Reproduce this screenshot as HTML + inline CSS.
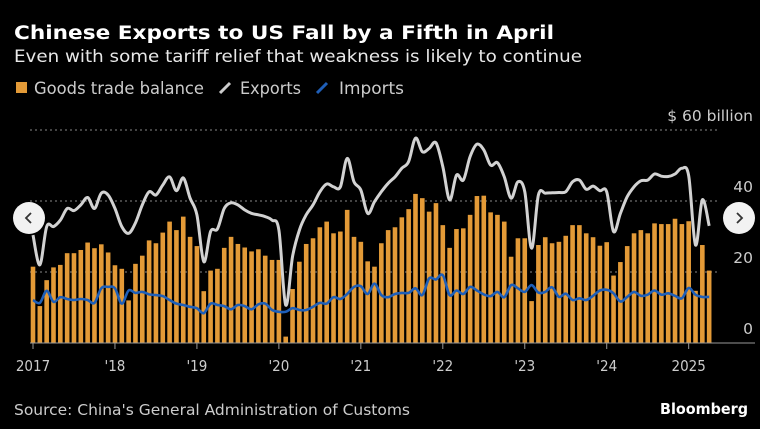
<!DOCTYPE html>
<html><head><meta charset="utf-8"><style>
html,body{margin:0;padding:0;background:#000;}
svg{display:block;}
text{font-family:"DejaVu Sans","Liberation Sans",sans-serif;fill:#e8e8e8;}
.cond{font-family:"DejaVu Sans Condensed","DejaVu Sans","Liberation Sans",sans-serif;}
</style></head><body>
<svg id="chart" width="760" height="429" viewBox="0 0 760 429" xmlns="http://www.w3.org/2000/svg">
<rect width="760" height="429" fill="#000"/>
<text x="14" y="39" font-size="18.5" font-weight="bold" fill="#fff" textLength="540" lengthAdjust="spacingAndGlyphs" style="fill:#fff">Chinese Exports to US Fall by a Fifth in April</text>
<text x="14" y="62" font-size="16.5" textLength="568" lengthAdjust="spacingAndGlyphs">Even with some tariff relief that weakness is likely to continue</text>
<g>
<rect x="16" y="82" width="11" height="11" fill="#e39a37"/>
<text x="34" y="94" font-size="16.5" fill="#ccc" textLength="170" lengthAdjust="spacingAndGlyphs" style="fill:#ccc">Goods trade balance</text>
<line x1="220" y1="93" x2="230" y2="83" stroke="#ccc" stroke-width="3"/>
<text x="240" y="94" font-size="16.5" textLength="61" lengthAdjust="spacingAndGlyphs" style="fill:#ccc">Exports</text>
<line x1="317" y1="93" x2="327" y2="83" stroke="#1f5fb8" stroke-width="3"/>
<text x="339" y="94" font-size="16.5" textLength="65" lengthAdjust="spacingAndGlyphs" style="fill:#ccc">Imports</text>
</g>
<g id="grid"></g>
<g id="bars"></g>
<g id="lines"></g>
<g id="axis"></g>
<text class="cond" x="14" y="415" font-size="15" textLength="396" lengthAdjust="spacingAndGlyphs" style="fill:#ccc">Source: China's General Administration of Customs</text>
<text x="748" y="414" font-size="15" font-weight="bold" text-anchor="end" textLength="88" lengthAdjust="spacingAndGlyphs" style="fill:#fff">Bloomberg</text>
<g><circle cx="29" cy="218" r="16" fill="#f2f2f2"/><path d="M31 213 L26 218 L31 223" stroke="#333" stroke-width="1.8" fill="none"/></g>
<g><circle cx="739" cy="218" r="16" fill="#f2f2f2"/><path d="M737 213 L742 218 L737 223" stroke="#333" stroke-width="1.8" fill="none"/></g>
</svg>
<script>
const balance=[21.5,10.4,17.7,21.3,22,25.3,25.3,26.2,28.3,26.7,27.8,25.5,
21.9,20.9,12,22.3,24.6,28.9,28.1,31.1,34.2,31.8,35.6,29.9,
27.3,14.6,20.4,20.9,26.8,29.9,27.9,26.9,25.8,26.4,24.6,23.4,
23.4,1.8,15.2,22.9,27.9,29.5,32.6,34.2,30.9,31.4,37.5,29.9,
28.5,23,21.5,28.1,31.8,32.6,35.4,37.7,42,40.8,37,39.4,
33.2,26.8,32.1,32.3,36.1,41.4,41.5,36.8,36.1,34.2,24.3,29.5,
29.5,11.8,27.6,29.8,28.1,28.5,30.2,33.2,33.2,30.9,29.8,27.4,
28.4,19,22.8,27.3,30.9,31.8,30.9,33.7,33.5,33.5,35,33.5,
34.3,14.7,27.6,20.4];
const exportsV=[30.4,22,32.8,32.8,34.6,37.9,37.3,38.9,41,37.9,42.2,41.7,
37.9,32.8,30.9,33.8,38.9,42.6,41.7,44.5,46.8,42.9,46.5,40.8,
36.1,22.9,31.4,32.1,37.9,39.5,38.9,37.5,36.5,36.1,35.6,34.6,
31.8,10.7,24.3,31.8,36.1,38.9,42.6,44.8,44,44,52,45.4,
43.1,36.5,39.8,42.6,45,46.8,49.2,51.1,57.7,53.9,54.8,56.4,
49.7,40.3,47.3,45.9,52.5,56,54.4,50.1,50.8,46.8,40.8,45.4,
42.6,26.7,41.7,42.2,42.3,42.4,42.6,45.4,45.9,43.3,44.2,42.9,
42.6,31.4,36.5,41.2,44,45.7,45.9,47.6,47,46.9,47.6,49.2,
47.1,27.6,40.3,33];
const importsV=[12.1,11.3,14.7,11.6,12.9,12.4,12.1,12.4,12.1,11.3,15.4,15.8,
15.4,11.1,14.8,14.1,14.4,13.7,13.5,13.2,12.1,11.1,10.7,10.2,
9.8,8.4,11.1,10.7,10.4,9.5,10.7,10.4,9.5,10.9,11.1,9.3,
8.8,8.8,9.8,9.3,9.3,10.2,11.3,11.1,12.9,12.4,13.8,15.8,
16,13.8,16.7,13.5,12.9,13.8,14.1,14.1,15.4,13.5,18.2,17.9,
19.1,13.5,14.8,13.8,15.8,14.8,13.7,13.2,14.4,12.9,16.3,15.4,
14.4,16.3,14.2,14.4,15.7,13,13.9,12.1,12.6,12.1,13.3,14.8,
15,14,11.7,13,14.4,13.3,13.6,14.8,13.6,14,13.3,12.6,
15.5,13.6,13,13];
const yearLabels=["2017","'18","'19","'20","'21","'22","'23","'24","2025"];
const yTicks=[0,20,40,60];
const yTickLabels=["0","20","40","$ 60 billion"];

const NS="http://www.w3.org/2000/svg";
const x=m=>33+m*6.83;
const y=v=>343-v*3.55;
function mk(tag,attrs,parent){const e=document.createElementNS(NS,tag);for(const k in attrs)e.setAttribute(k,attrs[k]);parent.appendChild(e);return e;}
const grid=document.getElementById('grid'),bars=document.getElementById('bars'),lines=document.getElementById('lines'),axis=document.getElementById('axis');
yTicks.forEach((t,i)=>{
  if(t>0){const g=mk('line',{x1:30,x2:720,y1:y(t),y2:y(t),stroke:'#888','stroke-width':1,'stroke-dasharray':'2,3'},grid);
  
  }
  const tx=mk('text',{x:753,y:y(t)-9,'font-size':15.5,'text-anchor':'end',style:'fill:#ccc'},axis);
  tx.textContent=yTickLabels[i];
  
  
});
balance.forEach((v,i)=>{
  const r=mk('rect',{x:x(i)-2.3,y:y(v),width:4.6,height:Math.max(0,343-y(v)),fill:'#e39a37'},bars);
  
  
});
function path(arr){
  const p=arr.map((v,i)=>[x(i),y(v)]);
  let d='M'+p[0][0].toFixed(1)+' '+p[0][1].toFixed(1);
  for(let i=0;i<p.length-1;i++){
    const p0=p[Math.max(0,i-1)],p1=p[i],p2=p[i+1],p3=p[Math.min(p.length-1,i+2)];
    const c1x=p1[0]+(p2[0]-p0[0])/6,c1y=p1[1]+(p2[1]-p0[1])/6;
    const c2x=p2[0]-(p3[0]-p1[0])/6,c2y=p2[1]-(p3[1]-p1[1])/6;
    d+=' C'+c1x.toFixed(1)+' '+c1y.toFixed(1)+' '+c2x.toFixed(1)+' '+c2y.toFixed(1)+' '+p2[0].toFixed(1)+' '+p2[1].toFixed(1);
  }
  return d;
}
const pe=mk('path',{d:path(exportsV),stroke:'#d2d2d2','stroke-width':3,fill:'none','stroke-linejoin':'round'},lines);


const pi=mk('path',{d:path(importsV),stroke:'#1f5fb8','stroke-width':2.6,fill:'none','stroke-linejoin':'round'},lines);


const base=mk('line',{x1:30,x2:755,y1:343,y2:343,stroke:'#999','stroke-width':1},axis);


yearLabels.forEach((l,i)=>{
  const tk=mk('line',{x1:x(i*12),x2:x(i*12),y1:343,y2:349,stroke:'#999','stroke-width':1},axis);
  
  
  const tx=mk('text',{x:x(i*12),y:371,'font-size':15,'text-anchor':'middle','class':'cond',style:'fill:#ccc'},axis);
  tx.textContent=l;
  
  
});
</script>
</body></html>
